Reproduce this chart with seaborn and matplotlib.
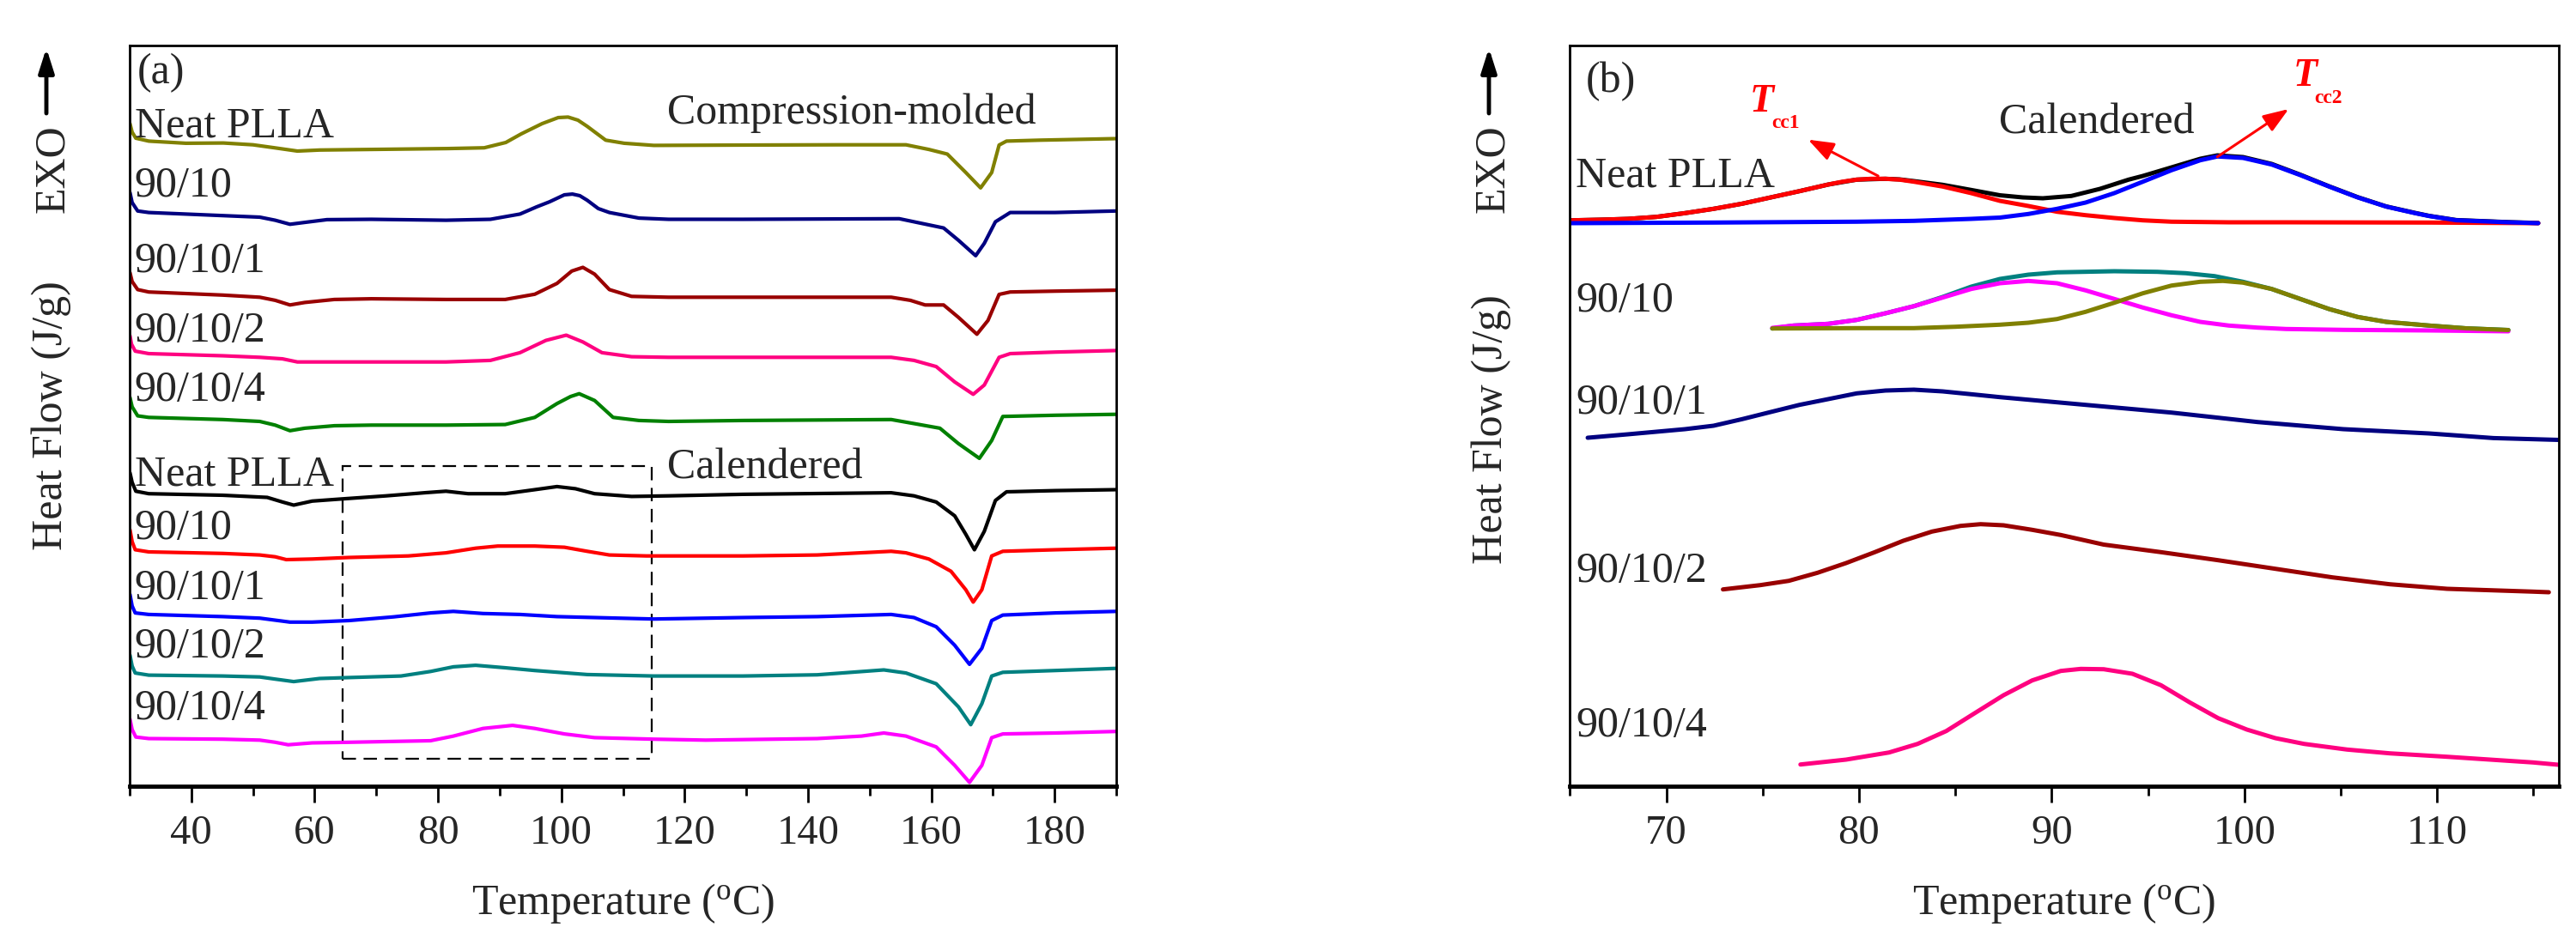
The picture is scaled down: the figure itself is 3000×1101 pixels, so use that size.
import numpy as np
import pandas as pd
import seaborn as sns
import matplotlib.pyplot as plt
from matplotlib.ticker import MultipleLocator
from matplotlib.patches import Rectangle

# ---------------------------
# Panel (a) data: DSC heating curves (shifted heat flow, a.u.)
# ---------------------------

# compression-molded
cm_neat_T = [30.05, 30.4, 31.0, 33.1, 39.1, 45.2, 50.0, 53.6, 57.2, 60.8, 69.2, 81.5, 87.5, 91.0, 93.5, 96.9, 99.5, 101.1, 102.7, 104.2, 107.2, 110.2, 115.0, 129.5, 145.0, 155.9, 159.6, 162.6, 165.6, 168.0, 169.8, 171.0, 172.2, 177.6, 190.0]
cm_neat_y = [77.2, 76.2, 75.5, 75.16, 74.91, 74.94, 74.73, 74.37, 74.0, 74.12, 74.19, 74.29, 74.38, 75.0, 76.0, 77.2, 77.9, 77.96, 77.6, 76.88, 75.27, 74.91, 74.66, 74.7, 74.73, 74.73, 74.19, 73.65, 71.5, 69.71, 71.5, 74.7, 75.16, 75.27, 75.45]

cm_9010_T = [30.05, 30.4, 31.3, 33.1, 45.1, 51.1, 53.6, 56.0, 58.4, 62.0, 69.2, 81.3, 88.5, 93.3, 96.0, 98.1, 100.5, 101.8, 103.0, 104.2, 106.0, 107.8, 112.6, 117.4, 129.5, 154.8, 158.4, 162.0, 164.4, 167.2, 168.6, 170.4, 172.8, 180.1, 190.0]
cm_9010_y = [69.17, 68.0, 67.02, 66.84, 66.48, 66.30, 65.94, 65.47, 65.69, 66.01, 66.05, 65.94, 66.05, 66.66, 67.5, 68.09, 68.9, 68.99, 68.8, 68.27, 67.3, 66.84, 66.19, 66.05, 66.05, 66.12, 65.58, 65.04, 63.61, 61.81, 63.25, 65.76, 66.84, 66.84, 67.02]

cm_90101_T = [30.05, 30.4, 31.3, 33.1, 45.1, 51.1, 53.6, 56.0, 58.4, 63.2, 69.2, 81.3, 90.9, 95.7, 99.3, 101.7, 103.5, 105.4, 107.8, 111.4, 117.4, 129.5, 153.5, 156.6, 159.0, 162.0, 164.4, 167.4, 169.2, 171.0, 172.8, 180.1, 190.0]
cm_90101_y = [59.84, 58.8, 57.86, 57.58, 57.22, 56.97, 56.61, 56.07, 56.36, 56.71, 56.79, 56.71, 56.71, 57.32, 58.58, 60.02, 60.45, 59.66, 57.86, 57.07, 56.97, 56.97, 56.97, 56.61, 56.07, 56.07, 54.63, 52.66, 54.27, 57.3, 57.58, 57.68, 57.79]

cm_90102_T = [30.05, 30.3, 30.9, 33.1, 45.1, 51.1, 54.8, 57.2, 63.2, 81.3, 88.5, 93.3, 97.5, 100.8, 103.5, 106.6, 111.4, 117.4, 129.5, 153.5, 157.2, 160.8, 163.8, 166.8, 168.6, 171.0, 172.8, 180.1, 190.0]
cm_90102_y = [52.48, 51.5, 50.69, 50.40, 50.15, 49.97, 49.79, 49.43, 49.43, 49.43, 49.61, 50.51, 51.94, 52.55, 51.76, 50.51, 50.04, 49.97, 49.97, 49.97, 49.61, 48.89, 47.10, 45.66, 46.74, 49.97, 50.40, 50.58, 50.76]

cm_90104_T = [30.05, 30.4, 31.3, 33.1, 45.1, 51.1, 53.6, 56.0, 58.4, 63.2, 69.2, 81.3, 90.9, 95.7, 99.3, 101.5, 102.9, 105.4, 108.4, 112.6, 117.4, 129.5, 153.5, 157.2, 161.4, 164.4, 167.8, 169.8, 171.6, 180.1, 190.0]
cm_90104_y = [45.30, 44.2, 43.15, 42.97, 42.72, 42.50, 42.07, 41.42, 41.71, 42.00, 42.07, 42.07, 42.14, 42.97, 44.58, 45.4, 45.73, 44.94, 42.97, 42.61, 42.50, 42.61, 42.72, 42.25, 41.71, 39.92, 38.20, 40.28, 43.08, 43.22, 43.33]

# calendered
cal_neat_T = [30.05, 30.4, 31.0, 33.1, 45.1, 52.3, 54.8, 56.6, 59.6, 64.4, 71.6, 78.0, 81.3, 84.9, 90.9, 95.7, 99.3, 102.3, 105.4, 111.4, 117.4, 129.5, 153.5, 157.2, 160.8, 163.8, 165.6, 167.0, 168.6, 170.4, 172.2, 180.1, 190.0]
cal_neat_y = [36.52, 35.4, 34.37, 34.08, 33.90, 33.65, 33.11, 32.75, 33.22, 33.47, 33.83, 34.2, 34.37, 34.08, 34.08, 34.55, 34.91, 34.66, 34.08, 33.76, 33.83, 34.01, 34.19, 33.83, 33.11, 31.50, 29.35, 27.55, 29.70, 33.29, 34.30, 34.44, 34.55]

cal_9010_T = [30.05, 30.4, 30.9, 33.1, 45.1, 51.1, 53.6, 55.4, 59.6, 65.6, 75.2, 81.3, 86.1, 89.7, 95.7, 100.5, 104.2, 107.8, 113.8, 129.5, 141.5, 153.5, 155.9, 159.6, 163.2, 165.6, 166.8, 168.2, 169.8, 171.6, 180.1, 190.0]
cal_9010_y = [29.88, 28.5, 27.55, 27.30, 27.12, 26.94, 26.73, 26.40, 26.47, 26.65, 26.83, 27.19, 27.73, 27.98, 27.98, 27.84, 27.37, 26.94, 26.83, 26.83, 26.94, 27.37, 27.19, 26.47, 25.04, 22.89, 21.45, 22.89, 26.83, 27.37, 27.55, 27.73]

cal_90101_T = [30.05, 30.4, 30.9, 33.1, 45.1, 51.1, 56.0, 59.6, 65.6, 72.8, 78.8, 82.5, 87.3, 93.3, 99.3, 105.4, 115.0, 129.5, 141.5, 153.5, 157.2, 160.8, 163.8, 166.2, 168.2, 169.8, 171.6, 180.1, 190.0]
cal_90101_y = [22.35, 21.0, 20.19, 20.01, 19.76, 19.58, 19.12, 19.12, 19.30, 19.73, 20.19, 20.37, 20.12, 20.01, 19.76, 19.65, 19.48, 19.65, 19.76, 20.01, 19.65, 18.58, 16.42, 14.20, 16.07, 19.30, 19.94, 20.19, 20.37]

cal_90102_T = [30.05, 30.4, 30.9, 33.1, 45.1, 51.1, 53.6, 56.6, 60.8, 65.6, 74.0, 78.8, 82.5, 86.1, 90.9, 95.7, 104.2, 115.0, 129.5, 141.5, 152.3, 155.9, 160.8, 164.4, 166.4, 168.2, 169.8, 171.6, 180.1, 190.0]
cal_90102_y = [15.28, 14.0, 13.19, 12.94, 12.84, 12.73, 12.48, 12.19, 12.55, 12.66, 12.84, 13.37, 13.91, 14.09, 13.80, 13.48, 13.01, 12.84, 12.84, 12.98, 13.55, 13.19, 11.94, 9.25, 7.17, 9.61, 12.84, 13.27, 13.48, 13.73]

cal_90104_T = [30.05, 30.4, 31.0, 33.1, 45.1, 51.1, 53.6, 55.7, 59.6, 65.6, 78.8, 82.5, 87.3, 92.1, 95.7, 100.5, 105.4, 115.0, 123.4, 141.5, 148.7, 152.3, 155.9, 160.8, 163.8, 166.2, 168.2, 169.8, 171.6, 180.1, 190.0]
cal_90104_y = [7.81, 6.6, 5.73, 5.55, 5.48, 5.37, 5.12, 4.83, 5.05, 5.12, 5.30, 5.84, 6.73, 7.09, 6.73, 6.09, 5.66, 5.48, 5.37, 5.55, 5.84, 6.20, 5.84, 4.58, 2.43, 0.45, 2.43, 5.66, 6.09, 6.20, 6.38]

labels_a = ["Neat PLLA", "90/10", "90/10/1", "90/10/2", "90/10/4"]
label_y_cm = [75.6, 68.7, 59.9, 51.8, 44.9]
label_y_cal = [35.0, 28.8, 21.8, 15.0, 7.8]
colors_cm = ["#808000", "#000080", "#990000", "#FF0080", "#008000"]
colors_cal = ["#000000", "#FF0000", "#0000FF", "#008080", "#FF00FF"]

# zoomed region shown in (b)
box_T = (64.5, 114.6)
box_y = (3.2, 37.3)

# ---------------------------
# Panel (b) data: cold crystallization region + peak fits
# ---------------------------
b_neat_T = [65.03, 66.51, 68.0, 69.48, 70.97, 72.45, 73.94, 75.42, 76.91, 78.40, 79.88, 81.37, 82.11, 82.85, 84.34, 85.82, 87.31, 88.5, 89.54, 91.02, 92.51, 93.99, 94.73, 96.22, 97.71, 98.6, 99.93, 101.42, 102.9, 104.39, 105.88, 107.36, 108.85, 109.59, 111.0, 113.7, 115.25]
b_neat_y = [65.93, 66.0, 66.1, 66.33, 66.77, 67.27, 67.87, 68.6, 69.33, 70.1, 70.67, 70.77, 70.7, 70.5, 70.07, 69.47, 68.85, 68.6, 68.5, 68.77, 69.6, 70.67, 71.1, 72.1, 73.1, 73.5, 73.3, 72.5, 71.25, 69.9, 68.63, 67.55, 66.8, 66.45, 65.96, 65.72, 65.62]
b_neat_p1_T = [65.03, 66.51, 68.0, 69.48, 70.97, 72.45, 73.94, 75.42, 76.91, 78.40, 79.14, 79.88, 80.62, 81.37, 82.11, 82.85, 84.34, 85.82, 87.31, 88.79, 90.28, 91.76, 93.25, 94.73, 96.22, 99.19, 102.16, 109.59, 115.25]
b_neat_p1_y = [65.93, 66.0, 66.1, 66.33, 66.77, 67.27, 67.87, 68.6, 69.33, 70.1, 70.43, 70.67, 70.77, 70.77, 70.67, 70.43, 69.87, 69.1, 68.2, 67.6, 66.93, 66.53, 66.2, 65.93, 65.77, 65.7, 65.7, 65.67, 65.6]
b_neat_p2_T = [65.03, 72.45, 79.88, 82.85, 85.82, 87.31, 88.79, 90.28, 91.76, 93.25, 94.73, 96.22, 97.71, 98.6, 99.93, 101.42, 102.9, 104.39, 105.88, 107.36, 108.85, 109.59, 111.0, 113.7, 115.25]
b_neat_p2_y = [65.6, 65.67, 65.77, 65.87, 66.1, 66.25, 66.67, 67.27, 68.0, 69.1, 70.43, 71.77, 72.93, 73.37, 73.2, 72.43, 71.2, 69.87, 68.6, 67.53, 66.77, 66.43, 65.94, 65.7, 65.6]

b_9010_T = [75.5, 76.61, 78.4, 79.88, 81.37, 82.85, 84.34, 85.82, 87.31, 88.79, 90.28, 93.25, 95.48, 96.96, 98.45, 99.93, 101.42, 102.9, 104.39, 105.88, 107.36, 109.59, 111.5, 113.7]
b_9010_y = [53.33, 53.67, 53.87, 54.33, 55.1, 55.93, 57.0, 58.2, 59.1, 59.6, 59.87, 60.0, 59.93, 59.77, 59.43, 58.77, 57.93, 56.77, 55.6, 54.67, 54.1, 53.67, 53.35, 53.15]
b_9010_p1_T = [75.5, 76.61, 78.4, 79.88, 81.37, 82.85, 84.34, 85.82, 87.31, 88.79, 90.28, 91.76, 93.25, 94.73, 96.22, 97.71, 99.19, 100.68, 102.16, 105.13, 109.59, 113.7]
b_9010_p1_y = [53.4, 53.67, 53.87, 54.33, 55.1, 55.93, 56.93, 57.93, 58.6, 58.87, 58.6, 57.77, 56.77, 55.77, 54.87, 54.1, 53.67, 53.43, 53.27, 53.17, 53.1, 53.0]
b_9010_p2_T = [75.5, 79.88, 82.85, 85.0, 87.31, 88.79, 90.28, 91.76, 93.25, 94.73, 96.22, 97.71, 98.89, 99.93, 101.42, 102.9, 104.39, 105.88, 107.36, 109.59, 111.5, 113.7]
b_9010_p2_y = [53.33, 53.37, 53.37, 53.53, 53.77, 54.0, 54.43, 55.27, 56.33, 57.43, 58.33, 58.77, 58.87, 58.67, 57.93, 56.77, 55.6, 54.67, 54.1, 53.67, 53.35, 53.15]

b_90101_T = [65.92, 68.0, 70.97, 72.45, 73.94, 75.42, 76.91, 78.4, 79.88, 81.37, 82.85, 84.34, 85.82, 87.31, 91.76, 96.22, 100.68, 105.13, 109.59, 112.93, 116.3]
b_90101_y = [40.6, 41.0, 41.6, 42.0, 42.77, 43.6, 44.43, 45.1, 45.77, 46.1, 46.2, 46.0, 45.67, 45.33, 44.43, 43.53, 42.43, 41.6, 41.1, 40.56, 40.35]

b_90102_T = [72.94, 74.88, 76.36, 77.85, 79.33, 80.82, 82.3, 83.79, 85.27, 86.31, 87.5, 88.99, 90.47, 92.7, 95.67, 98.64, 101.61, 104.58, 107.55, 110.52, 114.98, 115.8]
b_90102_y = [22.93, 23.43, 23.93, 24.87, 26.0, 27.27, 28.6, 29.67, 30.33, 30.53, 30.4, 29.87, 29.27, 28.15, 27.27, 26.33, 25.33, 24.33, 23.53, 23.0, 22.67, 22.6]

b_90104_T = [76.96, 79.33, 81.56, 83.04, 84.53, 86.02, 87.5, 88.99, 90.47, 91.51, 92.7, 94.19, 95.67, 97.16, 98.64, 100.13, 101.61, 103.1, 105.33, 107.55, 110.52, 114.98, 116.3]
b_90104_y = [2.53, 3.1, 3.93, 4.93, 6.43, 8.53, 10.6, 12.33, 13.43, 13.67, 13.63, 13.1, 11.77, 9.77, 7.93, 6.6, 5.6, 4.93, 4.27, 3.83, 3.43, 2.77, 2.5]

labels_b_y = [69.9, 55.3, 43.4, 23.8, 5.8]

# ---------------------------
# Style
# ---------------------------
sns.set_theme(style="ticks")
plt.rcParams['font.family'] = ['Liberation Serif', 'DejaVu Serif']
plt.rcParams['mathtext.fontset'] = 'custom'
plt.rcParams['mathtext.rm'] = 'Liberation Serif'
plt.rcParams['mathtext.it'] = 'Liberation Serif:italic'
plt.rcParams['mathtext.bf'] = 'Liberation Serif:bold'

FS = 36

fig = plt.figure(figsize=(30, 11.01), dpi=100)
W, H = 3000, 1101
ax1 = fig.add_axes([151 / W, 1 - 916 / H, 1149 / W, 863 / H])
ax2 = fig.add_axes([1828.4 / W, 1 - 916 / H, 1151.6 / W, 863 / H])


def draw(ax, T, y, color, lw):
    sns.lineplot(x=T, y=y, ax=ax, color=color, lw=lw, estimator=None,
                 sort=False, legend=False)


# ---------------------------
# Panel (a)
# ---------------------------
cm_T = [cm_neat_T, cm_9010_T, cm_90101_T, cm_90102_T, cm_90104_T]
cm_y = [cm_neat_y, cm_9010_y, cm_90101_y, cm_90102_y, cm_90104_y]
cal_T = [cal_neat_T, cal_9010_T, cal_90101_T, cal_90102_T, cal_90104_T]
cal_y = [cal_neat_y, cal_9010_y, cal_90101_y, cal_90102_y, cal_90104_y]

for T, y, c in zip(cm_T, cm_y, colors_cm):
    draw(ax1, T, y, c, 3.0)
for T, y, c in zip(cal_T, cal_y, colors_cal):
    draw(ax1, T, y, c, 3.0)

for lab, yy in zip(labels_a, label_y_cm):
    ax1.text(30.8, yy, lab, fontsize=FS, va='baseline', ha='left')
for lab, yy in zip(labels_a, label_y_cal):
    ax1.text(30.8, yy, lab, fontsize=FS, va='baseline', ha='left')

ax1.text(31.2, 81.9, "(a)", fontsize=FS, va='baseline')
ax1.text(117.2, 77.2, "Compression-molded", fontsize=FS, va='baseline')
ax1.text(117.2, 35.9, "Calendered", fontsize=FS, va='baseline')

ax1.add_patch(Rectangle((box_T[0], box_y[0]), box_T[1] - box_T[0], box_y[1] - box_y[0],
                        fill=False, ec='black', lw=1.6, ls=(0, (7, 4))))

ax1.set_xlim(30, 190)
ax1.set_xticks(range(40, 181, 20))
ax1.xaxis.set_minor_locator(MultipleLocator(10))

# ---------------------------
# Panel (b)
# ---------------------------
draw(ax2, b_neat_T, b_neat_y, "#000000", 3.6)
draw(ax2, b_neat_p1_T, b_neat_p1_y, "#FF0000", 3.6)
draw(ax2, b_neat_p2_T, b_neat_p2_y, "#0000FF", 3.6)
draw(ax2, b_9010_T, b_9010_y, "#008080", 3.6)
draw(ax2, b_9010_p1_T, b_9010_p1_y, "#FF00FF", 3.6)
draw(ax2, b_9010_p2_T, b_9010_p2_y, "#808000", 3.6)
draw(ax2, b_90101_T, b_90101_y, "#000080", 3.6)
draw(ax2, b_90102_T, b_90102_y, "#990000", 3.6)
draw(ax2, b_90104_T, b_90104_y, "#FF0080", 3.6)

for lab, yy in zip(labels_a, labels_b_y):
    ax2.text(65.29, yy, lab, fontsize=FS, va='baseline', ha='left')

ax2.text(65.83, 80.9, "(b)", fontsize=FS, va='baseline')
ax2.text(87.26, 76.1, "Calendered", fontsize=FS, va='baseline')

# Tcc labels and arrows
ax2.text(74.34, 78.6, "T", fontsize=33, color='red', fontweight='bold',
         fontstyle='italic', va='baseline')
ax2.text(75.46, 76.7, "cc1", fontsize=17, color='red', fontweight='bold', va='baseline')
ax2.text(102.55, 81.55, "T", fontsize=33, color='red', fontweight='bold',
         fontstyle='italic', va='baseline')
ax2.text(103.62, 79.6, "cc2", fontsize=17, color='red', fontweight='bold', va='baseline')

arrow = dict(arrowstyle='-|>,head_length=0.9,head_width=0.33', color='red', lw=2.2,
             shrinkA=0, shrinkB=0, mutation_scale=20)
ax2.annotate("", xy=(77.36, 75.33), xytext=(80.99, 71.1), arrowprops=arrow)
ax2.annotate("", xy=(102.3, 78.9), xytext=(98.6, 73.33), arrowprops=arrow)

ax2.set_xlim(65, 116.32)
ax2.set_xticks(range(70, 111, 10))
ax2.xaxis.set_minor_locator(MultipleLocator(5))

# ---------------------------
# Common axis styling
# ---------------------------
for ax in (ax1, ax2):
    ax.set_ylim(0, 86.3)
    ax.set_yticks([])
    ax.set_ylabel("")
    ax.set_xlabel(r"Temperature ($^{\mathrm{o}}$C)", fontsize=FS, labelpad=24)
    for s in ax.spines.values():
        s.set_visible(True)
        s.set_color('black')
        s.set_linewidth(2.0)
    ax.spines['bottom'].set_linewidth(3.5)
    ax.tick_params(axis='x', which='major', direction='out', length=14, width=2,
                   labelsize=35, pad=10, color='black')
    ax.tick_params(axis='x', which='minor', direction='out', length=8, width=2,
                   color='black')

# y-axis labels with EXO arrow
for bx, hy, ax_x in [(72, 484.5, 54), (1749, 500, 1734)]:
    fig.text(bx / W, 1 - hy / H, "Heat Flow (J/g)", fontsize=FS, rotation=90,
             rotation_mode='anchor', ha='center', va='baseline')
    fig.text((bx + 2) / W, 1 - 197 / H, "EXO", fontsize=FS, rotation=90,
             rotation_mode='anchor', ha='center', va='baseline')
    fig.add_artist(plt.Annotation("", xy=(ax_x / W, 1 - 56 / H), xytext=(ax_x / W, 1 - 132 / H),
                                  xycoords='figure fraction', textcoords='figure fraction',
                                  arrowprops=dict(arrowstyle='-|>,head_length=0.85,head_width=0.27',
                                                  color='black', lw=3.5, shrinkA=0, shrinkB=0,
                                                  mutation_scale=20)))

fig.savefig("out.png", dpi=100, facecolor='white')
